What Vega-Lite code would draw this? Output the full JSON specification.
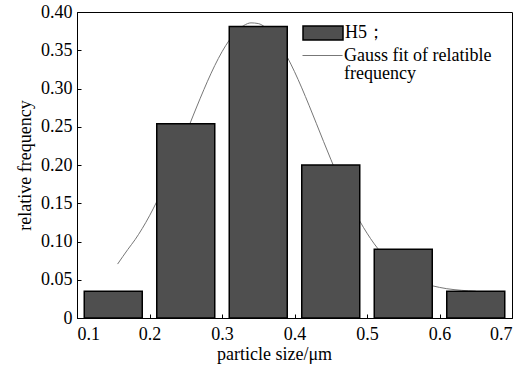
{
  "$schema": "https://vega.github.io/schema/vega-lite/v6.json",
  "width": 435,
  "height": 306,
  "autosize": {"type": "none"},
  "padding": {"left": 77, "top": 12, "right": 19, "bottom": 49},
  "background": "white",
  "config": {
    "font": "Liberation Serif",
    "view": {"stroke": "black", "strokeWidth": 1},
    "axis": {
      "domainColor": "black",
      "tickColor": "black",
      "labelColor": "black",
      "titleColor": "black",
      "labelFont": "Liberation Serif",
      "titleFont": "Liberation Serif",
      "labelFontSize": 18,
      "titleFontSize": 18,
      "titleFontWeight": "normal",
      "grid": false,
      "tickSize": -4,
      "ticks": true,
      "labelOverlap": false
    },
    "legend": {
      "labelFont": "Liberation Serif",
      "labelFontSize": 18,
      "labelColor": "black",
      "padding": 0
    }
  },
  "encoding": {
    "x": {
      "field": "x",
      "type": "quantitative",
      "scale": {"domain": [0.1, 0.7], "nice": false, "zero": false},
      "axis": {"values": [0.1, 0.2, 0.3, 0.4, 0.5, 0.6, 0.7], "format": ".1f", "title": "particle size/μm", "labelPadding": 11, "titlePadding": 2, "labelOverlap": false, "titleX": 197, "titleAlign": "center", "titleAnchor": null}
    },
    "y": {
      "field": "y",
      "type": "quantitative",
      "scale": {"domain": [0, 0.4], "nice": false},
      "axis": {
        "values": [0, 0.05, 0.1, 0.15, 0.2, 0.25, 0.3, 0.35, 0.4],
        "format": ".2f",
        "labelExpr": "datum.label == '0.00' ? '0' : datum.label",
        "title": "relative frequency",
        "labelPadding": 9,
        "titlePadding": 6,
        "labelOverlap": false,
        "labelSeparation": 0
      }
    }
  },
  "layer": [
    {
      "data": {
        "values": [
          {"x": 0.156, "y": 0.0705}, {"x": 0.17, "y": 0.0895}, {"x": 0.18, "y": 0.1023},
          {"x": 0.19, "y": 0.117}, {"x": 0.2, "y": 0.1336}, {"x": 0.21, "y": 0.1521}, {"x": 0.22, "y": 0.1723},
          {"x": 0.23, "y": 0.1941}, {"x": 0.24, "y": 0.2169}, {"x": 0.25, "y": 0.2404}, {"x": 0.26, "y": 0.2641},
          {"x": 0.27, "y": 0.2873}, {"x": 0.28, "y": 0.3095}, {"x": 0.29, "y": 0.33}, {"x": 0.3, "y": 0.348},
          {"x": 0.31, "y": 0.3631}, {"x": 0.32, "y": 0.3747}, {"x": 0.33, "y": 0.3823}, {"x": 0.34, "y": 0.3858},
          {"x": 0.35, "y": 0.3849}, {"x": 0.36, "y": 0.3798}, {"x": 0.37, "y": 0.3705}, {"x": 0.38, "y": 0.3575},
          {"x": 0.39, "y": 0.3411}, {"x": 0.4, "y": 0.322}, {"x": 0.41, "y": 0.3008}, {"x": 0.42, "y": 0.2781},
          {"x": 0.43, "y": 0.2546}, {"x": 0.44, "y": 0.2309}, {"x": 0.45, "y": 0.2076}, {"x": 0.46, "y": 0.1852},
          {"x": 0.47, "y": 0.1641}, {"x": 0.48, "y": 0.1445}, {"x": 0.49, "y": 0.1267}, {"x": 0.5, "y": 0.1109},
          {"x": 0.51, "y": 0.0969}, {"x": 0.52, "y": 0.0849}, {"x": 0.53, "y": 0.0747}, {"x": 0.54, "y": 0.0661},
          {"x": 0.55, "y": 0.059}, {"x": 0.56, "y": 0.0533}, {"x": 0.57, "y": 0.0486}, {"x": 0.58, "y": 0.045},
          {"x": 0.59, "y": 0.0421}, {"x": 0.6, "y": 0.04}, {"x": 0.61, "y": 0.0383}, {"x": 0.62, "y": 0.0371},
          {"x": 0.63, "y": 0.0362}, {"x": 0.64, "y": 0.0355}, {"x": 0.65, "y": 0.035}
        ]
      },
      "mark": {"type": "line", "strokeWidth": 1, "interpolate": "monotone"},
      "encoding": {
        "stroke": {
          "datum": "Gauss fit of relatible frequency",
          "type": "nominal",
          "scale": {"range": ["#777777"]},
          "legend": {
            "orient": "none",
            "legendX": 225,
            "legendY": 23,
            "title": null,
            "symbolType": "stroke",
            "symbolSize": 1600,
            "symbolStrokeWidth": 1,
            "labelOffset": 1,
            "labelBaseline": "middle",
            "labelLimit": 300,
            "labelExpr": "['Gauss fit of relatible', 'frequency']",
            "encode": {"labels": {"update": {"lineHeight": {"value": 18}}}}
          }
        }
      }
    },
    {
      "data": {
        "values": [
          {"x": 0.11, "x1": 0.19, "y": 0.035},
          {"x": 0.21, "x1": 0.29, "y": 0.254},
          {"x": 0.31, "x1": 0.39, "y": 0.381},
          {"x": 0.41, "x1": 0.49, "y": 0.2},
          {"x": 0.51, "x1": 0.59, "y": 0.09},
          {"x": 0.61, "x1": 0.69, "y": 0.035}
        ]
      },
      "mark": {"type": "bar", "stroke": "black", "strokeWidth": 1.5},
      "encoding": {
        "x2": {"field": "x1"},
        "y2": {"datum": 0},
        "fill": {
          "datum": "H5；",
          "type": "nominal",
          "scale": {"range": ["#4f4f4f"]},
          "legend": {
            "orient": "none",
            "legendX": 225,
            "legendY": 0,
            "title": null,
            "symbolType": "M-1,-0.35H1V0.35H-1Z",
            "symbolSize": 1600,
            "symbolStrokeColor": "black",
            "symbolStrokeWidth": 1.5,
            "symbolOpacity": 1,
            "labelOffset": 1
          }
        }
      }
    }
  ]
}
